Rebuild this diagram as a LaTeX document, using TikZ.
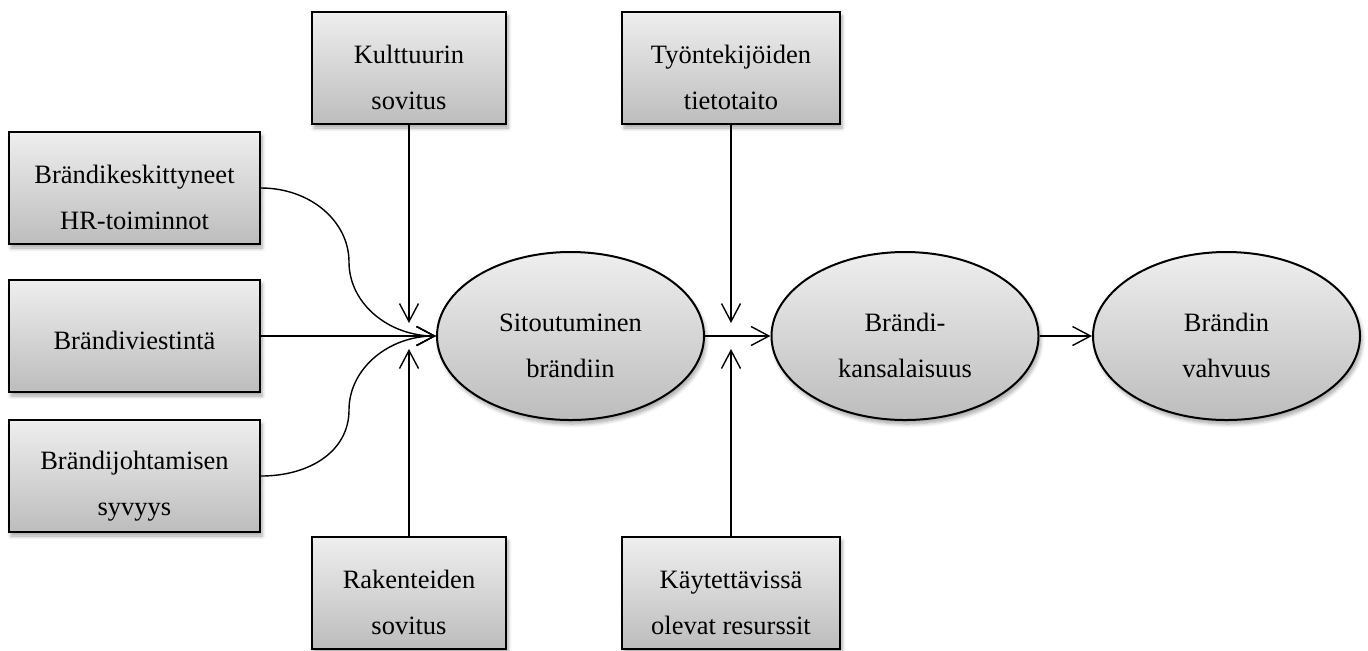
\documentclass[tikz,border=0pt]{standalone}
\usepackage{fontspec}
\setmainfont{Liberation Serif}
\usetikzlibrary{arrows.meta,shapes.geometric,shadows.blur}
\begin{document}
\begin{tikzpicture}[x=0.5pt,y=-0.5pt,
  font=\fontsize{13.25}{23}\selectfont,
  shade/.style={top color=gray!13,bottom color=gray!52,
    blur shadow={shadow xshift=1pt,shadow yshift=-2pt,shadow blur steps=6,shadow opacity=35}},
  factor/.style={shade,draw=black,line width=1pt,rectangle,align=center,
    minimum height=56pt,inner sep=2pt},
  stage/.style={shade,draw=black,line width=1pt,ellipse,align=center,
    minimum width=133.5pt,minimum height=84pt,inner sep=0pt},
  link/.style={line width=0.7pt,-{Straight Barb[length=9pt,width=9.5pt,line width=0.7pt]}},
]
\useasboundingbox (0,0) rectangle (1368,650);

% influencing factors
\node[factor,minimum width=125.5pt] (hr)    at (134.5,188) {\rule{0pt}{19pt}Brändikeskittyneet\\HR-toiminnot};
\node[factor,minimum width=125.5pt] (viest) at (134.5,336) {\rule{0pt}{14pt}Brändiviestintä};
\node[factor,minimum width=125.5pt] (joht)  at (134.5,476) {\rule{0pt}{19pt}Brändijohtamisen\\syvyys};
\node[factor,minimum width=97pt]    (kult)  at (409,68)    {\rule{0pt}{19pt}Kulttuurin\\sovitus};
\node[factor,minimum width=97pt]    (rak)   at (409,593)   {\rule{0pt}{19pt}Rakenteiden\\sovitus};
\node[factor,minimum width=109pt]   (tyo)   at (731,68)    {\rule{0pt}{19pt}Työntekijöiden\\tietotaito};
\node[factor,minimum width=109pt]   (kay)   at (731,593)   {\rule{0pt}{19pt}Käytettävissä\\olevat resurssit};

% main chain
\node[stage] (sit)  at (570.5,336) {\rule{0pt}{19pt}Sitoutuminen\\brändiin};
\node[stage] (kans) at (905,336)   {\rule{0pt}{19pt}Brändi-\\kansalaisuus};
\node[stage] (vahv) at (1226.5,336){\rule{0pt}{19pt}Brändin\\vahvuus};

% moderator arrow tips
\coordinate (kTip) at (409,323);
\coordinate (rTip) at (409,349);
\coordinate (tTip) at (731,323);
\coordinate (aTip) at (731,349);

% turning points of the two S-shaped inputs
\coordinate (hrBend)   at (349,262);
\coordinate (johtBend) at (349,410);

\draw[link] (hr.east) .. controls +(49,0) and +(0,-41) .. (hrBend)
  .. controls +(0,41) and +(-48,0) .. (sit.west);
\draw[link] (viest.east) -- (sit.west);
\draw[link] (joht.east) .. controls +(49,0) and +(0,41) .. (johtBend)
  .. controls +(0,-41) and +(-48,0) .. (sit.west);
\draw[link] (kult.south) -- (kTip);
\draw[link] (rak.north) -- (rTip);
\draw[link] (tyo.south) -- (tTip);
\draw[link] (kay.north) -- (aTip);
\draw[link] (sit.east) -- (kans.west);
\draw[link] (kans.east) -- (vahv.west);
\end{tikzpicture}
\end{document}
